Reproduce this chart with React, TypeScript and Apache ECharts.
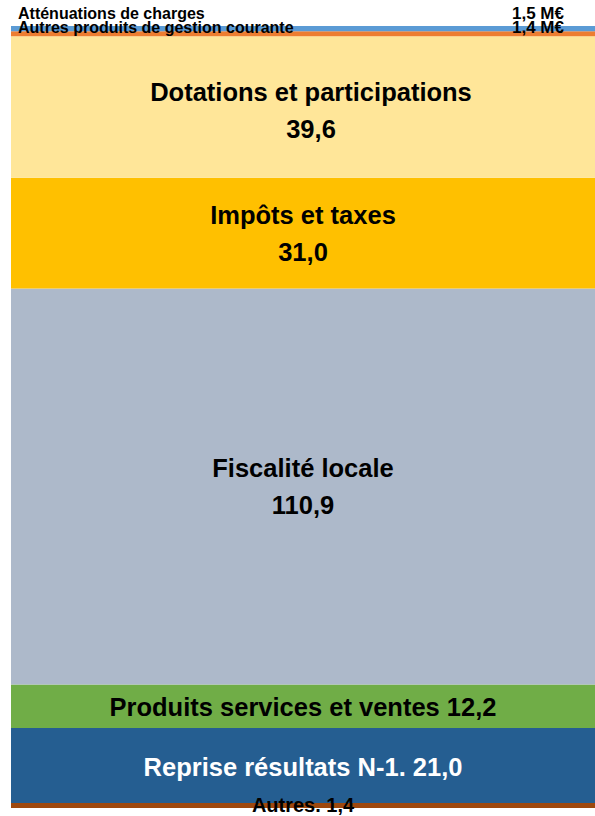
import React, { useEffect, useRef } from "react";
import * as echarts from "echarts";

// Stacked from bottom to top
const names = [
  "Autres.",
  "Reprise résultats N-1.",
  "Produits services et ventes",
  "Fiscalité locale",
  "Impôts et taxes",
  "Dotations et participations",
  "Autres produits de gestion courante",
  "Atténuations de charges",
];
const values = [1.4, 21.0, 12.2, 110.9, 31.0, 39.6, 1.4, 1.5];
const colors = ["#9E480E", "#255E91", "#70AD47", "#ADB9CA", "#FFC000", "#FFE699", "#ED7D31", "#5B9BD5"];
// label style: "inline" = name + value on one line, "twoLine" = name \n value, "side" = name left, value M€ right
const labelKinds = ["inline", "inline", "inline", "twoLine", "twoLine", "twoLine", "side", "side"];
const labelColors = ["#000", "#fff", "#000", "#000", "#000", "#000", "#000", "#000"];
const labelSizes = [20, 25.5, 25.5, 25.5, 25.5, 25.5, 16, 16];
const labelOffsets: [number, number][] = [[0, -1], [0, 1], [0, 1], [0, 0], [0, 0], [8, 3], [0, -6], [0, -15]];

const fmt = (v: number) => v.toFixed(1).replace(".", ",");
const total = values.reduce((a, b) => a + b, 0);
const FONT = "'Liberation Sans', Arial, sans-serif";

export default function App() {
  const ref = useRef<HTMLDivElement>(null);
  useEffect(() => {
    if (!ref.current) return;
    const chart = echarts.init(ref.current, undefined, { renderer: "svg" });
    const series = names.map((name, i) => {
      const kind = labelKinds[i];
      let label: any;
      if (kind === "side") {
        label = {
          show: true,
          position: "insideLeft",
          distance: 7,
          offset: labelOffsets[i],
          formatter: `{n|${name}}{v|${fmt(values[i])} M€}`,
          rich: {
            n: { width: 494, fontSize: labelSizes[i], fontWeight: "bold", fontFamily: FONT, color: labelColors[i] },
            v: { fontSize: 17, fontWeight: "bold", fontFamily: FONT, color: labelColors[i] },
          },
        };
      } else {
        label = {
          show: true,
          position: "inside",
          offset: labelOffsets[i],
          formatter: kind === "twoLine" ? `${name}\n${fmt(values[i])}` : `${name} ${fmt(values[i])}`,
          fontSize: labelSizes[i],
          fontWeight: "bold",
          fontFamily: FONT,
          color: labelColors[i],
          lineHeight: 37,
          align: "center",
        };
      }
      return {
        name,
        type: "bar",
        stack: "total",
        barWidth: "100%",
        data: [values[i]],
        itemStyle: { color: colors[i] },
        label,
        silent: true,
      };
    });
    chart.setOption({
      animation: false,
      grid: { left: 11, right: 0, top: 26, bottom: 8 },
      xAxis: { type: "category", data: ["Recettes"], show: false },
      yAxis: { type: "value", min: 0, max: total, show: false },
      series,
    });
    return () => chart.dispose();
  }, []);
  return (
    <div
      ref={ref}
      style={{ position: "absolute", left: 0, top: 0, width: 595, height: 816 }}
    />
  );
}
